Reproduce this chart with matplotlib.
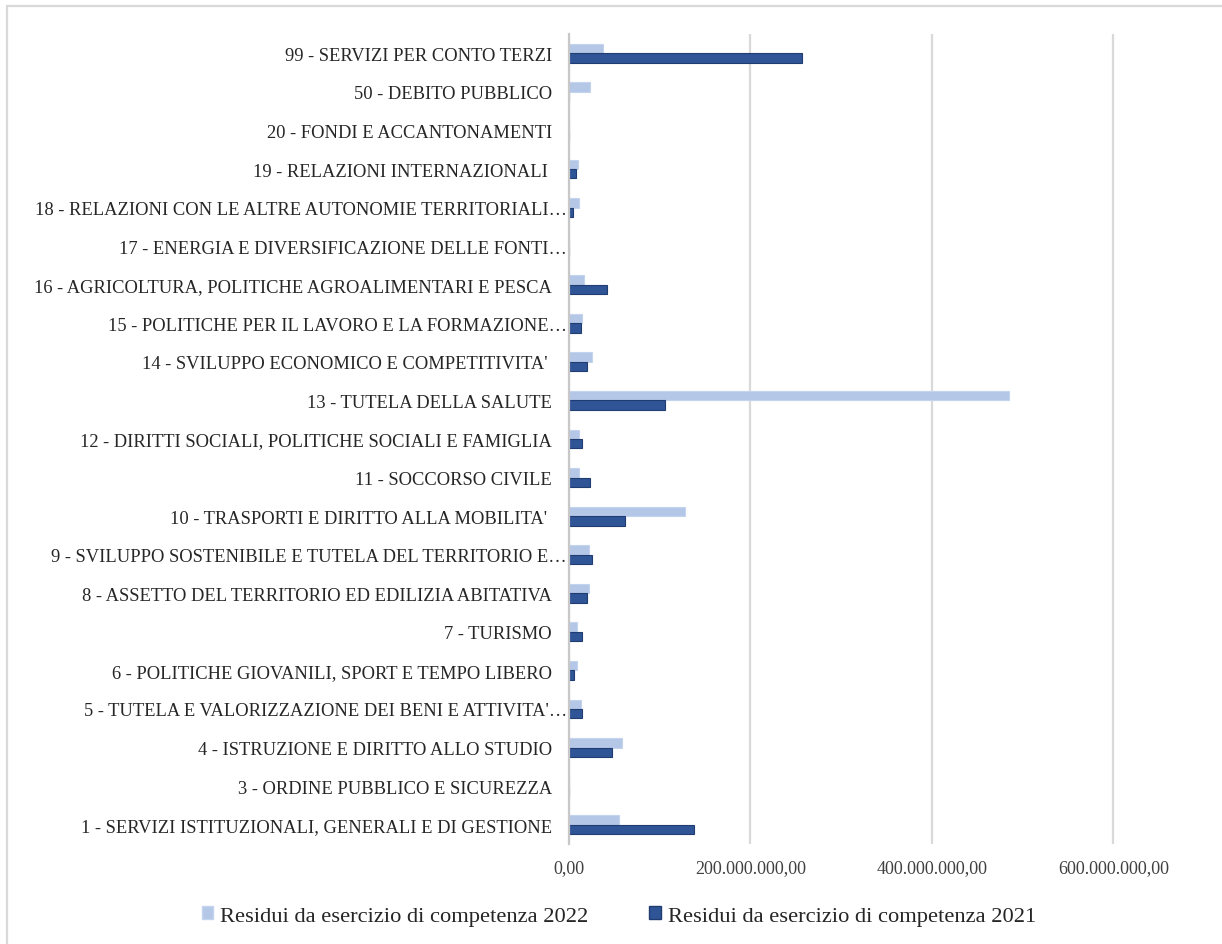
import numpy as np
import matplotlib
matplotlib.use('Agg')
import matplotlib.pyplot as plt
from matplotlib.patches import Patch, Rectangle
from matplotlib.ticker import FuncFormatter, MultipleLocator
from matplotlib.transforms import ScaledTranslation

plt.rcParams['font.family'] = ['Liberation Serif', 'DejaVu Serif']

# missioni, bottom to top
missioni = ['1 - SERVIZI ISTITUZIONALI, GENERALI E DI GESTIONE',
            '3 - ORDINE PUBBLICO E SICUREZZA',
            '4 - ISTRUZIONE E DIRITTO ALLO STUDIO',
            "5 - TUTELA E VALORIZZAZIONE DEI BENI E ATTIVITA'\u2026",
            '6 - POLITICHE GIOVANILI, SPORT E TEMPO LIBERO',
            '7 - TURISMO',
            '8 - ASSETTO DEL TERRITORIO ED EDILIZIA ABITATIVA',
            '9 - SVILUPPO SOSTENIBILE E TUTELA DEL TERRITORIO E\u2026',
            "10 - TRASPORTI E DIRITTO ALLA MOBILITA' ",
            '11 - SOCCORSO CIVILE',
            '12 - DIRITTI SOCIALI, POLITICHE SOCIALI E FAMIGLIA',
            '13 - TUTELA DELLA SALUTE',
            "14 - SVILUPPO ECONOMICO E COMPETITIVITA' ",
            '15 - POLITICHE PER IL LAVORO E LA FORMAZIONE\u2026',
            '16 - AGRICOLTURA, POLITICHE AGROALIMENTARI E PESCA',
            '17 - ENERGIA E DIVERSIFICAZIONE DELLE FONTI\u2026',
            '18 - RELAZIONI CON LE ALTRE AUTONOMIE TERRITORIALI\u2026',
            '19 - RELAZIONI INTERNAZIONALI ',
            '20 - FONDI E ACCANTONAMENTI',
            '50 - DEBITO PUBBLICO',
            '99 - SERVIZI PER CONTO TERZI']

# milioni di euro
residui_2022 = [54.7, 0, 58.0, 12.9, 8.5, 8.5, 21.7, 22.4, 127.8, 10.6, 10.6,
                485.0, 25.3, 14.0, 16.9, 0, 10.6, 9.5, 0, 23.5, 37.0]
residui_2021 = [137.4, 0, 47.4, 14.0, 5.5, 14.0, 20.2, 25.7, 62.0, 23.5, 14.0,
                106.0, 20.2, 12.9, 41.5, 0, 4.8, 7.7, 0, 0, 257.0]

label_2022 = 'Residui da esercizio di competenza 2022'
label_2021 = 'Residui da esercizio di competenza 2021'

c_light = '#b4c7e7'
c_dark = '#2f5597'

fig = plt.figure(figsize=(12.22, 9.45), dpi=100)
ax = fig.add_axes([569/1222, 1 - 845/945, 635/1222, 810/945])

y = np.arange(len(missioni))
h = 0.245
v22 = np.array(residui_2022) * 1e6
v21 = np.array(residui_2021) * 1e6
ax.barh(y + h/2, v22, height=h, color=c_light, edgecolor='#c5d4ee', linewidth=0.8, zorder=3)
ax.barh(y - h/2, v21, height=h, color=c_dark, edgecolor='#203c70', linewidth=0.8, zorder=3)

ax.set_ylim(-0.5, len(missioni) - 0.5)
ax.set_xlim(0, 700e6)
ax.xaxis.set_major_locator(MultipleLocator(200e6))


def fmt_it(v, pos):
    s = f'{v:,.2f}'
    return s.replace(',', 'X').replace('.', ',').replace('X', '.')


ax.xaxis.set_major_formatter(FuncFormatter(fmt_it))
ax.grid(axis='x', color='#d9d9d9', linewidth=1.6, zorder=0)
for s in ['top', 'right', 'bottom']:
    ax.spines[s].set_visible(False)
ax.spines['left'].set_color('#c8c8c8')
ax.spines['left'].set_linewidth(1.6)
ax.spines['left'].set_zorder(4)

ax.set_yticks(y)
ax.set_yticklabels(missioni, fontsize=13.3, color='#262626')
ax.tick_params(axis='y', length=0, pad=12.2)
ax.tick_params(axis='x', length=0, pad=11, labelsize=13, labelcolor='#404040')

# truncated labels overflow towards the axis
shift = ScaledTranslation(15/100, 0, fig.dpi_scale_trans)
for lab in ax.get_yticklabels():
    if lab.get_text().endswith('\u2026'):
        lab.set_transform(lab.get_transform() + shift)

handles = [Patch(facecolor=c_light, edgecolor='#c5d4ee', label=label_2022),
           Patch(facecolor=c_dark, edgecolor='#203c70', label=label_2021)]
fig.legend(handles=handles, loc='center', bbox_to_anchor=(0.5065, 0.0296), ncol=2,
           frameon=False, fontsize=16.2, handlelength=0.5, handleheight=0.5,
           handletextpad=0.31, columnspacing=2.7, labelcolor='#262626')

# chart frame
fig.patches.append(Rectangle((7/1222, -0.1), 1.1, 1.1 - 7/945, transform=fig.transFigure,
                             fill=False, edgecolor='#d9d9d9', linewidth=1.6))

fig.savefig('out.png', dpi=100)
